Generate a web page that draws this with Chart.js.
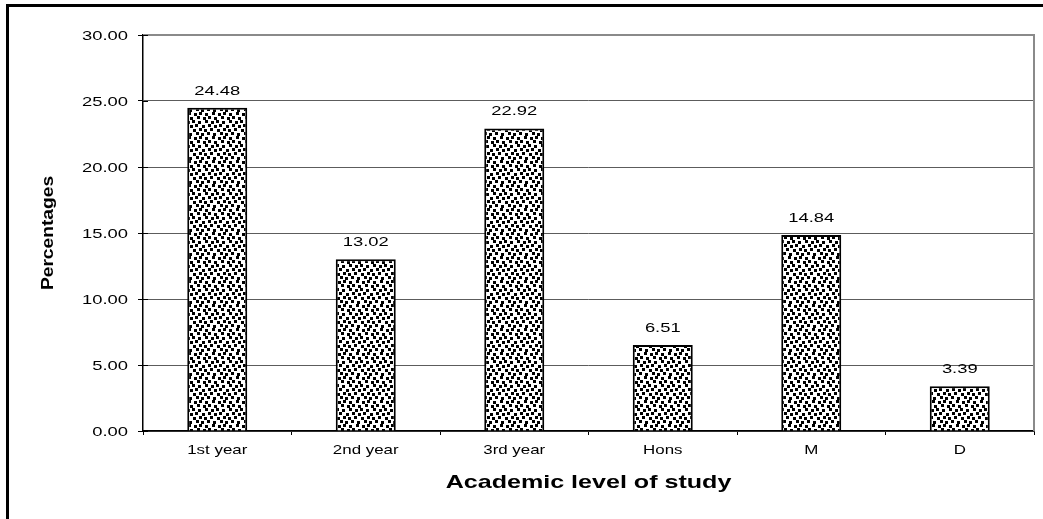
<!DOCTYPE html>
<html>
<head>
<meta charset="utf-8">
<script src="https://cdn.jsdelivr.net/npm/chart.js@4.4.1/dist/chart.umd.min.js"></script>
<style>
  html, body { margin: 0; padding: 0; background: #fff; }
  canvas { display: block; }
</style>
</head>
<body>
<canvas id="chart" width="1043" height="519"></canvas>
<script>
// Share of respondents by academic level of study
const categories = ['1st year', '2nd year', '3rd year', 'Hons', 'M', 'D'];
const percentages = [24.48, 13.02, 22.92, 6.51, 14.84, 3.39];
const yTicks = [0, 5, 10, 15, 20, 25, 30];
const xTitle = 'Academic level of study';
const yTitle = 'Percentages';

const FONT = '"Liberation Sans", Arial, sans-serif';

// Confetti-like fill: small black squares scattered on white
function makePattern() {
  const W = 24, H = 24;
  const c = document.createElement('canvas');
  c.width = W; c.height = H;
  const g = c.getContext('2d');
  g.fillStyle = '#fff';
  g.fillRect(0, 0, W, H);
  g.fillStyle = '#000';
  const spots = [
    [0, 0], [6, 1], [13, 0], [19, 1],
    [3, 4], [10, 5], [16, 4], [22, 5],
    [1, 9], [7, 8], [12, 9], [18, 8],
    [4, 12], [9, 13], [15, 12], [21, 13],
    [2, 17], [7, 16], [13, 17], [20, 16],
    [5, 20], [11, 21], [16, 20], [22, 21]
  ];
  spots.forEach(([x, y]) => {
    for (const dx of [-W, 0, W]) {
      for (const dy of [-H, 0, H]) g.fillRect(x + dx, y + dy, 3, 3);
    }
  });
  return g.createPattern(c, 'repeat');
}

// Draw text stretched horizontally along its own direction
function wideText(ctx, text, x, y, sx, align, angle) {
  ctx.save();
  ctx.translate(x, y);
  if (angle) ctx.rotate(angle);
  ctx.scale(sx, 1);
  ctx.textAlign = align;
  ctx.textBaseline = 'alphabetic';
  ctx.fillText(text, 0, 0);
  ctx.restore();
}

const textPlugin = {
  id: 'textPlugin',
  afterDraw(chart) {
    const ctx = chart.ctx;
    const xs = chart.scales.x, ys = chart.scales.y;
    const area = chart.chartArea;
    ctx.save();

    // plot frame (top and right edges)
    ctx.strokeStyle = '#8a8a8a';
    ctx.lineWidth = 2;
    ctx.beginPath();
    ctx.moveTo(area.left, area.top);
    ctx.lineTo(area.right, area.top);
    ctx.lineTo(area.right, area.bottom);
    ctx.stroke();

    // y tick marks crossing into the plot
    ctx.strokeStyle = '#000';
    ctx.lineWidth = 1;
    ys.ticks.forEach((t, i) => {
      const y = Math.round(ys.getPixelForTick(i)) + 0.5;
      ctx.beginPath();
      ctx.moveTo(area.left, y);
      ctx.lineTo(area.left + 5, y);
      ctx.stroke();
    });

    ctx.fillStyle = '#000';
    // y tick labels
    ctx.font = '13.5px ' + FONT;
    ys.ticks.forEach((t, i) => {
      wideText(ctx, t.value.toFixed(2), 128, ys.getPixelForTick(i) + 5, 1.36, 'right');
    });

    // x tick labels
    ctx.font = '13px ' + FONT;
    xs.ticks.forEach((t, i) => {
      wideText(ctx, categories[i], xs.getPixelForTick(i), 454, 1.3, 'center');
    });

    // value labels above bars
    ctx.font = '13.5px ' + FONT;
    chart.getDatasetMeta(0).data.forEach((bar, i) => {
      wideText(ctx, percentages[i].toFixed(2), bar.x, bar.y - 13, 1.36, 'center');
    });

    // axis titles
    ctx.font = 'bold 19px ' + FONT;
    wideText(ctx, xTitle, (area.left + area.right) / 2, 488, 1.32, 'center');
    ctx.font = 'bold 16px ' + FONT;
    wideText(ctx, yTitle, 53, (area.top + area.bottom) / 2, 1.2, 'center', -Math.PI / 2);

    // outer frame
    ctx.fillStyle = '#000';
    ctx.fillRect(6, 4, 3, chart.height);
    ctx.fillRect(6, 4, chart.width, 3);
    ctx.restore();
  }
};

const ctx = document.getElementById('chart').getContext('2d');
new Chart(ctx, {
  type: 'bar',
  data: {
    labels: categories,
    datasets: [{
      data: percentages,
      backgroundColor: makePattern(),
      borderColor: '#000',
      borderWidth: 2,
      barPercentage: 0.404,
      categoryPercentage: 1
    }]
  },
  options: {
    responsive: false,
    animation: false,
    devicePixelRatio: 1,
    layout: { padding: { left: 0, right: 9, top: 35, bottom: 0 } },
    plugins: { legend: { display: false }, tooltip: { enabled: false } },
    scales: {
      x: {
        offset: true,
        grid: { drawOnChartArea: false, drawTicks: true, tickLength: 4, color: '#000', offset: true },
        border: { color: '#000', width: 1.5 },
        ticks: { display: false },
        afterFit(scale) { scale.height = 88; }
      },
      y: {
        min: 0,
        max: 30,
        afterBuildTicks(scale) { scale.ticks = yTicks.map(v => ({ value: v })); },
        grid: {
          color: '#5c5c5c',
          lineWidth: 1,
          drawTicks: true,
          tickLength: 5,
          tickColor: '#000'
        },
        border: { color: '#000', width: 1.5 },
        ticks: { display: false },
        afterFit(scale) { scale.width = 143; }
      }
    }
  },
  plugins: [textPlugin]
});
</script>
</body>
</html>
